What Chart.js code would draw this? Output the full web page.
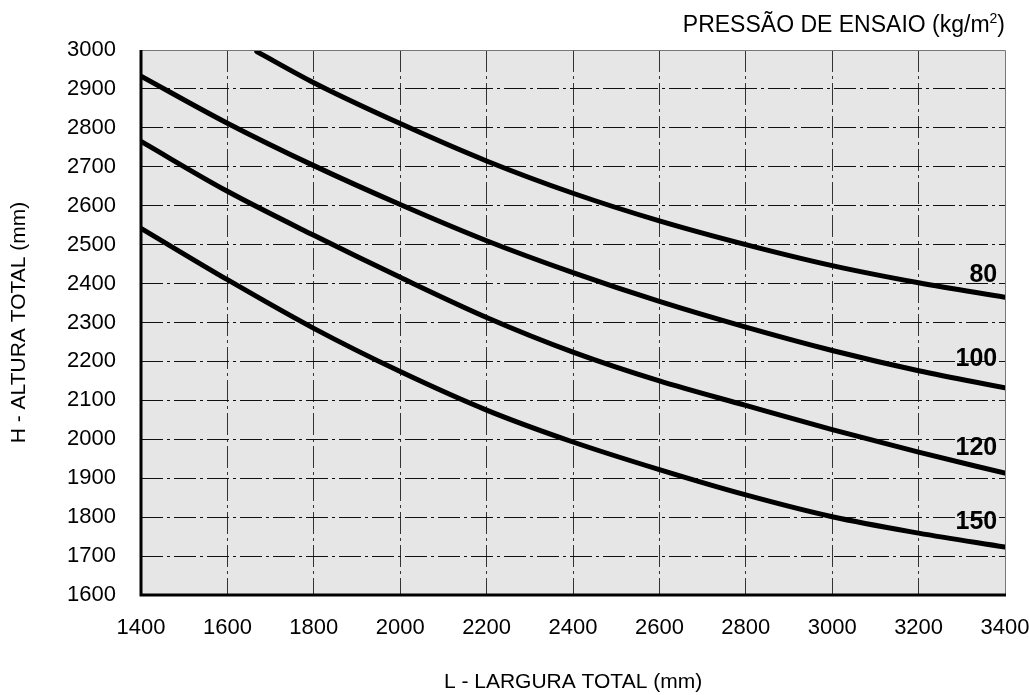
<!DOCTYPE html>
<html>
<head>
<meta charset="utf-8">
<script src="https://cdn.jsdelivr.net/npm/chart.js@4.4.0/dist/chart.umd.min.js"></script>
<style>
html,body{margin:0;padding:0;background:#fff;}
#wrap{width:1029px;height:695px;position:relative;}
</style>
</head>
<body>
<div id="wrap"><canvas id="c" width="1029" height="695"></canvas></div>
<script>
// Data
const seriesNames = ["80", "100", "120", "150"];
const xs80  = [1668, 1800, 2000, 2200, 2400, 2600, 2800, 3000, 3200, 3400];
const ys80  = [2996, 2916, 2811, 2715, 2632, 2561, 2500, 2446, 2402, 2365];
const xsAll = [1400, 1600, 1800, 2000, 2200, 2400, 2600, 2800, 3000, 3200, 3400];
const ys100 = [2933, 2812, 2703, 2603, 2510, 2428, 2354, 2288, 2228, 2176, 2132];
const ys120 = [2765, 2637, 2524, 2416, 2313, 2224, 2150, 2087, 2025, 1967, 1913];
const ys150 = [2542, 2410, 2285, 2174, 2075, 1993, 1922, 1857, 1801, 1759, 1723];
const labelPos = [[3382, 2422], [3382, 2206], [3382, 1978], [3382, 1788]];
const xTicks = [1400,1600,1800,2000,2200,2400,2600,2800,3000,3200,3400];
const yTicks = [1600,1700,1800,1900,2000,2100,2200,2300,2400,2500,2600,2700,2800,2900,3000];
const titleMain = "PRESSÃO DE ENSAIO (kg/m";
const titleSup = "2";
const titleEnd = ")";
const xTitle = "L - LARGURA TOTAL (mm)";
const yTitle = "H - ALTURA TOTAL (mm)";

const FONT = "'Liberation Sans', Arial, Helvetica, sans-serif";
const toPts = (xa, ya) => ya.map((y, i) => ({x: xa[i], y}));

const lineStyle = {
  borderColor: '#000', borderWidth: 5, pointRadius: 0, fill: false,
  cubicInterpolationMode: 'monotone', showLine: true, borderCapStyle: 'round'
};

const bgPlugin = {
  id: 'bg',
  beforeDraw(chart) {
    const {ctx, chartArea: a} = chart;
    ctx.save();
    ctx.fillStyle = '#e6e6e6';
    ctx.fillRect(a.left, a.top, a.right - a.left, a.bottom - a.top);
    ctx.restore();
  },
  afterDatasetsDraw(chart) {
    const {ctx, chartArea: a, scales} = chart;
    ctx.save();
    ctx.strokeStyle = '#777';
    ctx.lineWidth = 1;
    ctx.beginPath();
    ctx.moveTo(a.left, a.top + 0.5); ctx.lineTo(a.right + 0.5, a.top + 0.5);
    ctx.lineTo(a.right + 0.5, a.bottom);
    ctx.stroke();
    ctx.strokeStyle = '#000';
    ctx.lineWidth = 3;
    ctx.beginPath();
    ctx.moveTo(a.left, a.top); ctx.lineTo(a.left, a.bottom); ctx.lineTo(a.right + 1, a.bottom);
    ctx.stroke();
    // curve labels
    ctx.font = "bold 25px " + FONT;
    ctx.fillStyle = '#000';
    ctx.textAlign = 'right';
    ctx.textBaseline = 'middle';
    seriesNames.forEach((n, i) => {
      const px = scales.x.getPixelForValue(labelPos[i][0]);
      const py = scales.y.getPixelForValue(labelPos[i][1]);
      ctx.fillText(n, px, py);
    });
    // top title with superscript
    ctx.textBaseline = 'alphabetic';
    ctx.textAlign = 'left';
    const mainFont = "23px " + FONT, supFont = "14px " + FONT;
    ctx.font = mainFont; const w1 = ctx.measureText(titleMain).width;
    const w3 = ctx.measureText(titleEnd).width;
    ctx.font = supFont; const w2 = ctx.measureText(titleSup).width;
    const right = 1005, base = 32;
    let x0 = right - (w1 + w2 + w3);
    ctx.font = mainFont; ctx.fillText(titleMain, x0, base);
    ctx.font = supFont; ctx.fillText(titleSup, x0 + w1, base - 9);
    ctx.font = mainFont; ctx.fillText(titleEnd, x0 + w1 + w2, base);
    ctx.restore();
  }
};

new Chart(document.getElementById('c'), {
  type: 'scatter',
  data: {
    datasets: [
      {label: seriesNames[0], data: toPts(xs80, ys80), ...lineStyle},
      {label: seriesNames[1], data: toPts(xsAll, ys100), ...lineStyle},
      {label: seriesNames[2], data: toPts(xsAll, ys120), ...lineStyle},
      {label: seriesNames[3], data: toPts(xsAll, ys150), ...lineStyle}
    ]
  },
  options: {
    responsive: false,
    animation: false,
    layout: {padding: {top: 50, right: 24, left: 0, bottom: 0}},
    plugins: {legend: {display: false}, tooltip: {enabled: false}},
    scales: {
      x: {
        type: 'linear', min: 1400, max: 3400,
        afterBuildTicks(s) { s.ticks = xTicks.map(v => ({value: v})); },
        afterFit(s) { s.height = 100; s.paddingRight = 0; s.paddingLeft = 0; },
        grid: {
          color: (c) => (c.tick && (c.tick.value === 1400 || c.tick.value === 3400)) ? 'rgba(0,0,0,0)' : '#333',
          lineWidth: 1, drawTicks: false
        },
        border: {display: false, dash: [22, 4, 3, 4]},
        ticks: {color: '#000', padding: 20, font: {family: FONT, size: 22}, maxRotation: 0, autoSkip: false,
                callback: (v) => String(v)},
        title: {display: true, text: xTitle, color: '#000', font: {family: FONT, size: 21}, padding: {top: 0, bottom: 0}}
      },
      y: {
        type: 'linear', min: 1600, max: 3000,
        afterBuildTicks(s) { s.ticks = yTicks.map(v => ({value: v})); },
        afterFit(s) { s.width = 141; },
        grid: {
          color: (c) => (c.tick && (c.tick.value === 1600 || c.tick.value === 3000)) ? 'rgba(0,0,0,0)' : '#111',
          lineWidth: 1, drawTicks: false
        },
        border: {display: false, dash: [22, 4, 3, 4]},
        ticks: {color: '#000', padding: 25, font: {family: FONT, size: 22}, autoSkip: false,
                callback: (v) => String(v)},
        title: {display: true, text: yTitle, color: '#000', font: {family: FONT, size: 21}, padding: {top: 7, bottom: 0}}
      }
    }
  },
  plugins: [bgPlugin]
});
</script>
</body>
</html>
